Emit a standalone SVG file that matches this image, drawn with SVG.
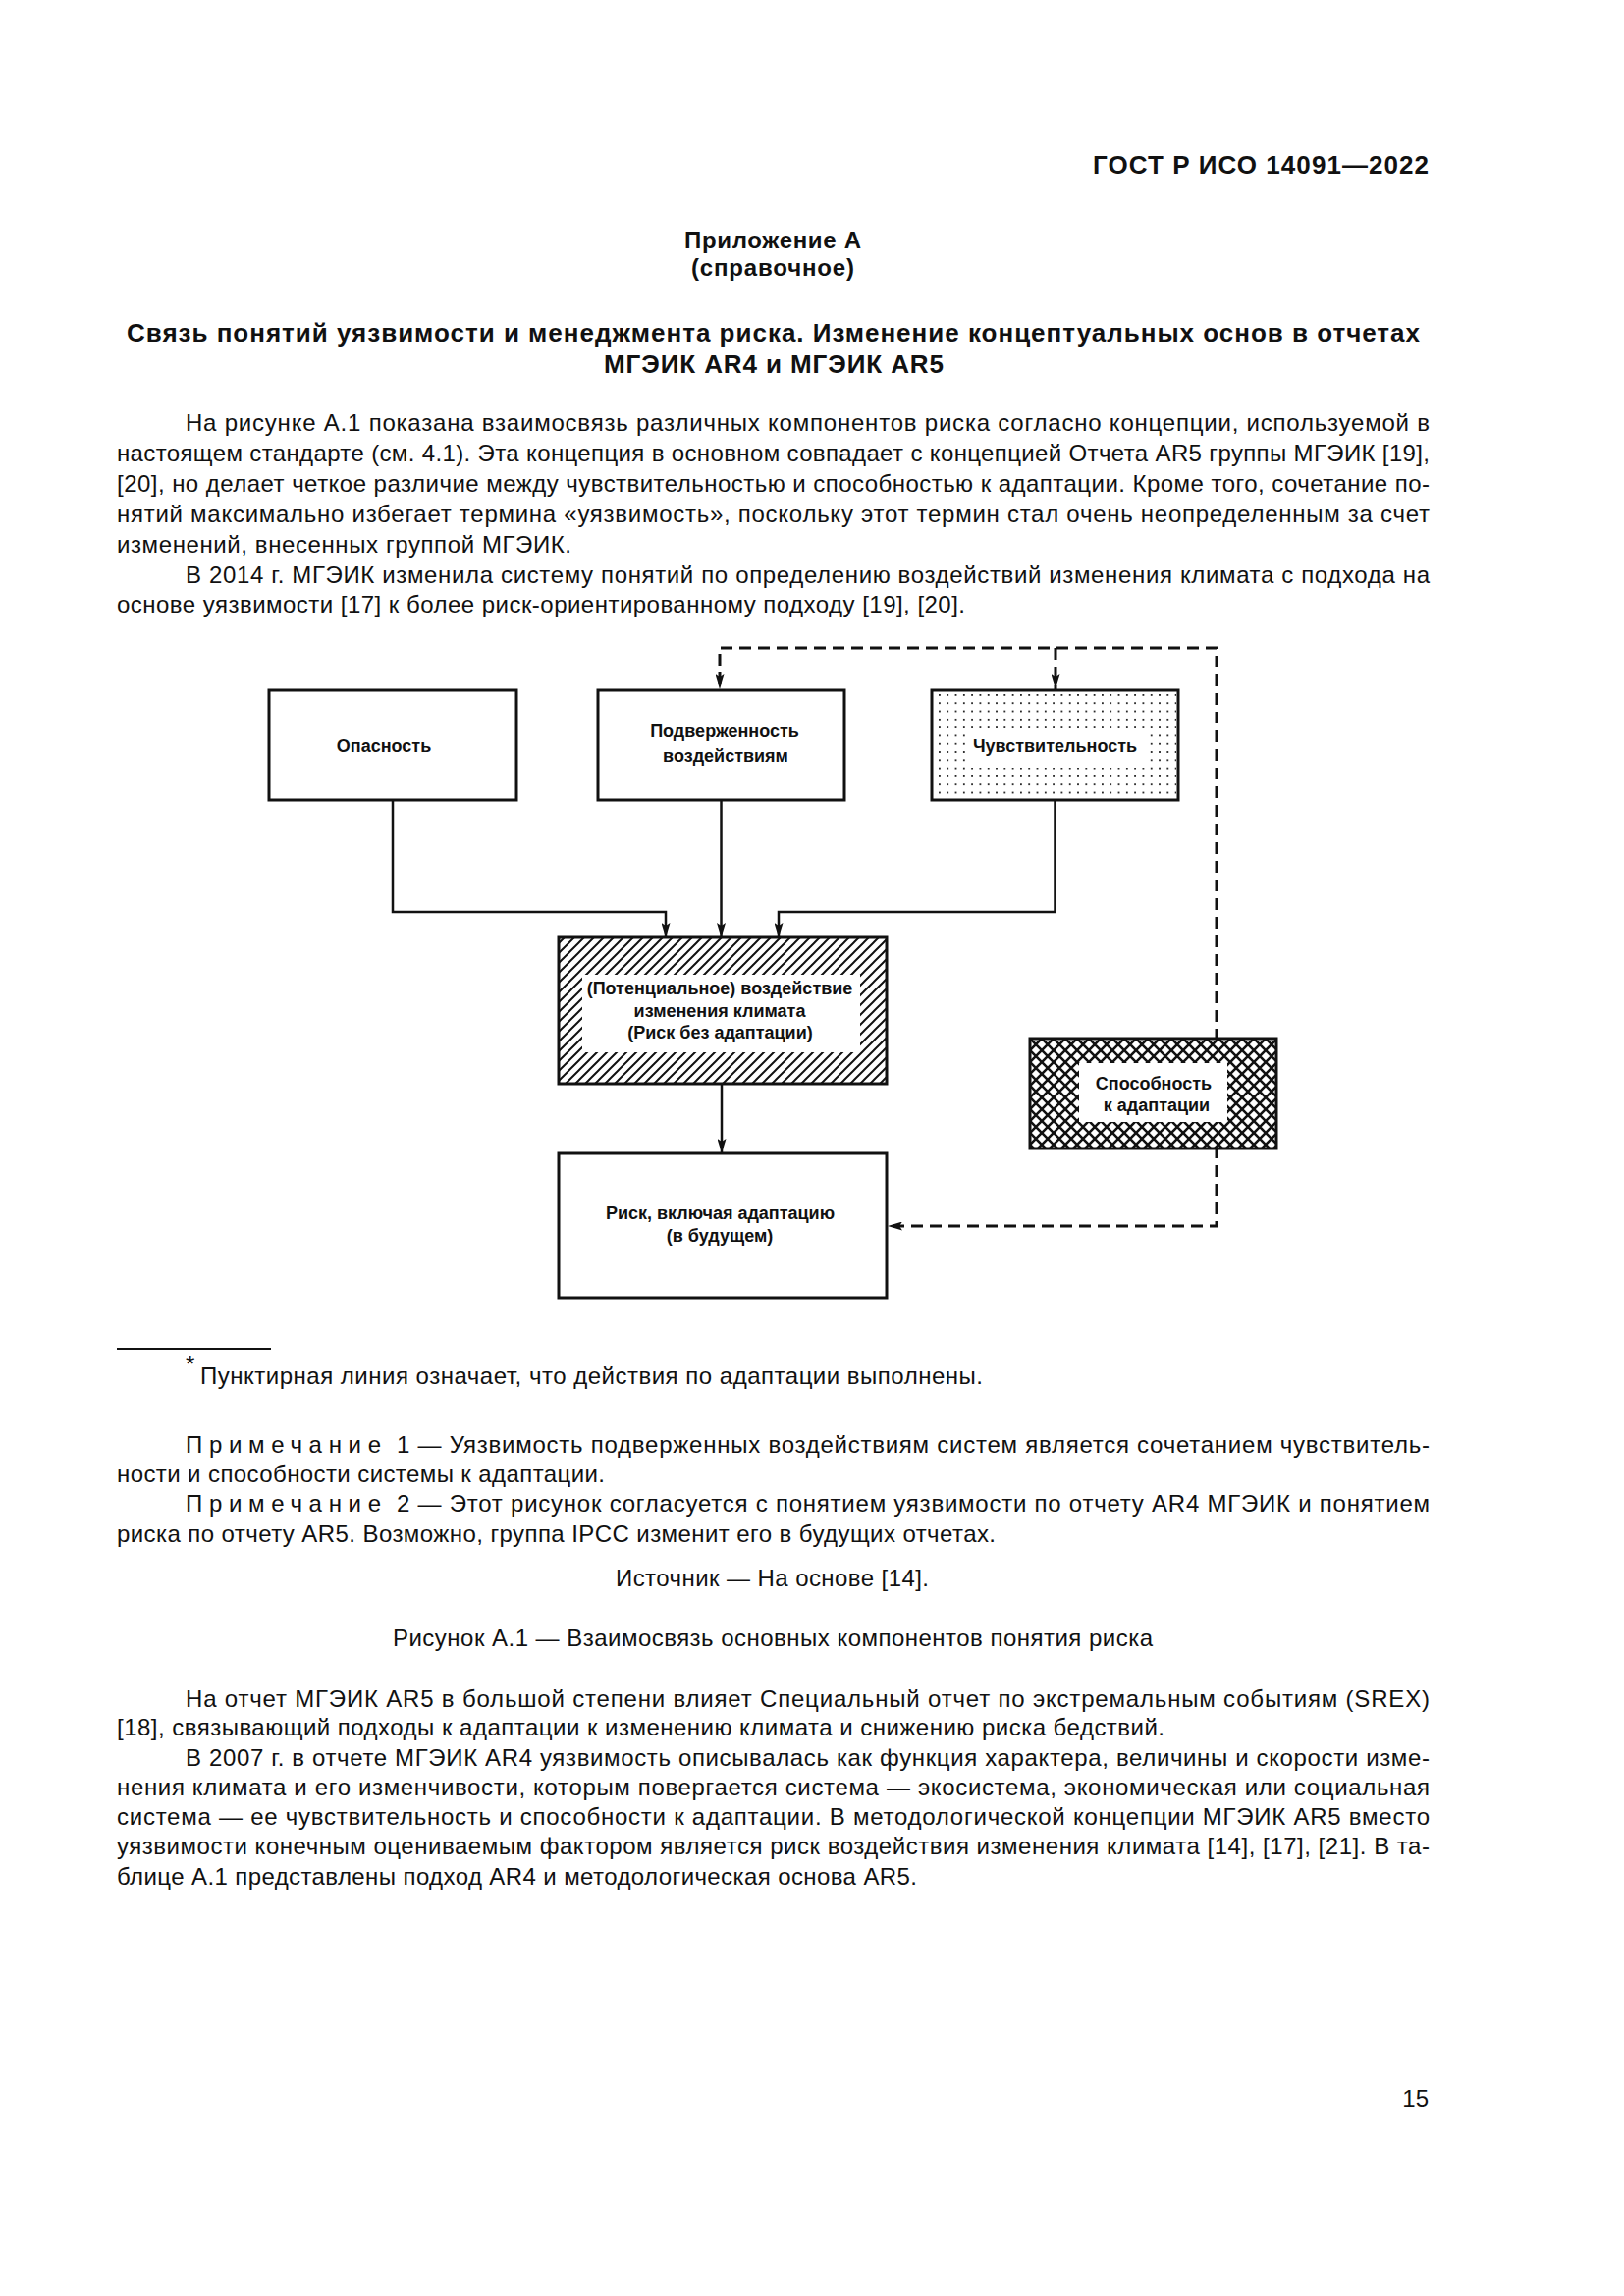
<svg xmlns="http://www.w3.org/2000/svg" width="1654" height="2339" viewBox="0 0 1654 2339">
<defs>
<style>
.t{font-family:"Liberation Sans",Arial,sans-serif;font-size:24px;fill:#111}
.b{font-family:"Liberation Sans",Arial,sans-serif;font-weight:bold;fill:#111}
.d{font-family:"Liberation Sans",Arial,sans-serif;font-weight:bold;font-size:18px;fill:#111;text-anchor:middle}
.box{fill:#fff;stroke:#111;stroke-width:3}
.con{fill:none;stroke:#111;stroke-width:2.5}
.dash{fill:none;stroke:#111;stroke-width:3;stroke-dasharray:12 7}
</style>
<marker id="ah" markerUnits="userSpaceOnUse" markerWidth="15" markerHeight="9" refX="15" refY="4.5" orient="auto">
<path d="M0,0 L15,4.5 L0,9 L3,4.5 z" fill="#111"/>
</marker>
<pattern id="hatch" patternUnits="userSpaceOnUse" width="10" height="10">
<path d="M-1,11 L11,-1 M-6,6 L6,-6 M4,16 L16,4" stroke="#111" stroke-width="2"/>
</pattern>
<pattern id="dots" patternUnits="userSpaceOnUse" x="956" y="707" width="8.3" height="8.3">
<rect x="0" y="0" width="1.8" height="1.8" fill="#222"/>
</pattern>
<pattern id="cross" patternUnits="userSpaceOnUse" x="1049" y="1058" width="12" height="12">
<path d="M-1,-1 L13,13 M13,-1 L-1,13" stroke="#111" stroke-width="2.6"/>
</pattern>
</defs>
<rect width="1654" height="2339" fill="#fff"/>

<g id="page-text">
<text class="b" x="1455" y="177" font-size="26" text-anchor="end" textLength="342" lengthAdjust="spacing">ГОСТ Р ИСО 14091—2022</text>
<text class="b" x="787" y="253" font-size="24" text-anchor="middle" textLength="180" lengthAdjust="spacing">Приложение А</text>
<text class="b" x="787" y="281" font-size="24" text-anchor="middle" textLength="166" lengthAdjust="spacing">(справочное)</text>
<text class="b" x="787.5" y="348" font-size="26" text-anchor="middle" textLength="1317" lengthAdjust="spacing">Связь понятий уязвимости и менеджмента риска. Изменение концептуальных основ в отчетах</text>
<text class="b" x="788" y="380" font-size="26" text-anchor="middle" textLength="346" lengthAdjust="spacing">МГЭИК AR4 и МГЭИК AR5</text>

<text class="t" x="189" y="439" textLength="1267" lengthAdjust="spacing">На рисунке А.1 показана взаимосвязь различных компонентов риска согласно концепции, используемой в</text>
<text class="t" x="119" y="470" textLength="1337" lengthAdjust="spacing">настоящем стандарте (см. 4.1). Эта концепция в основном совпадает с концепцией Отчета AR5 группы МГЭИК [19],</text>
<text class="t" x="119" y="501" textLength="1337" lengthAdjust="spacing">[20], но делает четкое различие между чувствительностью и способностью к адаптации. Кроме того, сочетание по-</text>
<text class="t" x="119" y="532" textLength="1337" lengthAdjust="spacing">нятий максимально избегает термина «уязвимость», поскольку этот термин стал очень неопределенным за счет</text>
<text class="t" x="119" y="563" textLength="463" lengthAdjust="spacing">изменений, внесенных группой МГЭИК.</text>
<text class="t" x="189" y="594" textLength="1267" lengthAdjust="spacing">В 2014 г. МГЭИК изменила систему понятий по определению воздействий изменения климата с подхода на</text>
<text class="t" x="119" y="624" textLength="864" lengthAdjust="spacing">основе уязвимости [17] к более риск-ориентированному подходу [19], [20].</text>

<line x1="119" y1="1374" x2="276" y2="1374" stroke="#111" stroke-width="2"/>
<text class="t" x="189" y="1398" font-size="17">*</text>
<text class="t" x="204" y="1410" textLength="797" lengthAdjust="spacing">Пунктирная линия означает, что действия по адаптации выполнены.</text>

<text class="t" x="189" y="1480" textLength="199" lengthAdjust="spacing">Примечание</text>
<text class="t" x="404" y="1480" textLength="1052" lengthAdjust="spacing">1 — Уязвимость подверженных воздействиям систем является сочетанием чувствитель-</text>
<text class="t" x="119" y="1510" textLength="497" lengthAdjust="spacing">ности и способности системы к адаптации.</text>
<text class="t" x="189" y="1540" textLength="199" lengthAdjust="spacing">Примечание</text>
<text class="t" x="404" y="1540" textLength="1052" lengthAdjust="spacing">2 — Этот рисунок согласуется с понятием уязвимости по отчету AR4 МГЭИК и понятием</text>
<text class="t" x="119" y="1571" textLength="895" lengthAdjust="spacing">риска по отчету AR5. Возможно, группа IPCC изменит его в будущих отчетах.</text>
<text class="t" x="786.5" y="1616" text-anchor="middle" textLength="319" lengthAdjust="spacing">Источник — На основе [14].</text>
<text class="t" x="787" y="1677" text-anchor="middle" textLength="774" lengthAdjust="spacing">Рисунок А.1 — Взаимосвязь основных компонентов понятия риска</text>

<text class="t" x="189" y="1739" textLength="1267" lengthAdjust="spacing">На отчет МГЭИК AR5 в большой степени влияет Специальный отчет по экстремальным событиям (SREX)</text>
<text class="t" x="119" y="1768" textLength="1067" lengthAdjust="spacing">[18], связывающий подходы к адаптации к изменению климата и снижению риска бедствий.</text>
<text class="t" x="189" y="1799" textLength="1267" lengthAdjust="spacing">В 2007 г. в отчете МГЭИК AR4 уязвимость описывалась как функция характера, величины и скорости изме-</text>
<text class="t" x="119" y="1829" textLength="1337" lengthAdjust="spacing">нения климата и его изменчивости, которым повергается система — экосистема, экономическая или социальная</text>
<text class="t" x="119" y="1859" textLength="1337" lengthAdjust="spacing">система — ее чувствительность и способности к адаптации. В методологической концепции МГЭИК AR5 вместо</text>
<text class="t" x="119" y="1889" textLength="1337" lengthAdjust="spacing">уязвимости конечным оцениваемым фактором является риск воздействия изменения климата [14], [17], [21]. В та-</text>
<text class="t" x="119" y="1920" textLength="815" lengthAdjust="spacing">блице А.1 представлены подход AR4 и методологическая основа AR5.</text>

<text class="t" x="1455" y="2146" text-anchor="end">15</text>
</g>

<g id="connectors">
<path class="con" d="M400,815 V929 H678 V955" marker-end="url(#ah)"/>
<path class="con" d="M734.5,815 V955" marker-end="url(#ah)"/>
<path class="con" d="M1074.5,815 V929 H793 V955" marker-end="url(#ah)"/>
<path class="con" d="M735,1105 V1175" marker-end="url(#ah)"/>
<path class="dash" d="M1239,1060 V660 H733 V702" marker-end="url(#ah)"/>
<path class="dash" d="M1075,660 V702" marker-end="url(#ah)"/>
<path class="dash" d="M1239,1168 V1249 H904" marker-end="url(#ah)"/>
</g>

<g id="node-hazard">
<rect class="box" x="274" y="703" width="252" height="112"/>
<text class="d" x="391" y="766">Опасность</text>
</g>

<g id="node-exposure">
<rect class="box" x="609" y="703" width="251" height="112"/>
<text class="d" x="738" y="751">Подверженность</text>
<text class="d" x="739" y="776">воздействиям</text>
</g>

<g id="node-sensitivity">
<rect x="949" y="703" width="251" height="112" fill="#fff"/>
<rect x="951" y="705" width="247" height="108" fill="url(#dots)"/>
<rect x="985" y="742" width="183" height="40" fill="#fff"/>
<rect x="949" y="703" width="251" height="112" fill="none" stroke="#111" stroke-width="3"/>
<text class="d" x="1074.5" y="766">Чувствительность</text>
</g>

<g id="node-impact">
<rect x="569" y="955" width="334" height="149" fill="#fff"/>
<rect x="569" y="955" width="334" height="149" fill="url(#hatch)"/>
<rect x="593" y="993" width="283" height="79" fill="#fff"/>
<rect x="569" y="955" width="334" height="149" fill="none" stroke="#111" stroke-width="3"/>
<text class="d" x="733" y="1013">(Потенциальное) воздействие</text>
<text class="d" x="733" y="1036">изменения климата</text>
<text class="d" x="733.5" y="1058">(Риск без адаптации)</text>
</g>

<g id="node-adaptive">
<rect x="1049" y="1058" width="251" height="112" fill="#fff"/>
<rect x="1049" y="1058" width="251" height="112" fill="url(#cross)"/>
<rect x="1099" y="1083" width="151" height="60" fill="#fff"/>
<rect x="1049" y="1058" width="251" height="112" fill="none" stroke="#111" stroke-width="3"/>
<text class="d" x="1175" y="1110">Способность</text>
<text class="d" x="1178" y="1132">к адаптации</text>
</g>

<g id="node-risk">
<rect class="box" x="569" y="1175" width="334" height="147"/>
<text class="d" x="733.5" y="1242">Риск, включая адаптацию</text>
<text class="d" x="733" y="1265">(в будущем)</text>
</g>
</svg>
